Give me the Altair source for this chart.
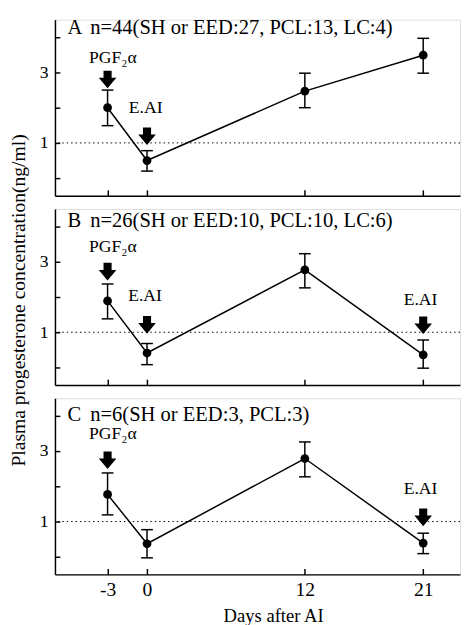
import altair as alt
import pandas as pd

# ---- data ----
DAYS = [-3, 0, 12, 21]
X_TICKS = [-3, 0, 12, 21]
Y_TICKS = [0, 1, 2, 3, 4]
REF = [1]

A_MEAN = [2.00, 0.50, 2.47, 3.49]
A_HI = [2.50, 0.78, 2.98, 3.97]
A_LO = [1.49, 0.20, 2.00, 2.98]

B_MEAN = [1.89, 0.41, 2.77, 0.36]
B_HI = [2.37, 0.68, 3.23, 0.78]
B_LO = [1.38, 0.08, 2.26, -0.02]

C_MEAN = [1.77, 0.37, 2.79, 0.39]
C_HI = [2.38, 0.77, 3.26, 0.67]
C_LO = [1.19, -0.03, 2.27, 0.09]

PANEL_LETTERS = ["A", "B", "C"]
PANEL_TEXTS = ["n=44(SH or EED:27, PCL:13, LC:4)",
               "n=26(SH or EED:10, PCL:10, LC:6)",
               "n=6(SH or EED:3, PCL:3)"]
PANEL_TEXT_Y = [4.25, 4.15, 4.02]

# arrows (day, level) per panel
ARROWS = {
    "A": ([-3, 0], [2.80, 1.19]),
    "B": ([-3, 0, 21], [2.72, 1.21, 1.20]),
    "C": ([-3, 21], [2.74, 1.12]),
}
# annotation labels (text, day, level) per panel
LABELS = {
    "A": (["PGF₂α", "E.AI"], [-2.6, -0.1], [3.40, 2.00]),
    "B": (["PGF₂α", "E.AI", "E.AI"], [-2.6, -0.15, 20.8], [3.43, 2.02, 1.90]),
    "C": (["PGF₂α", "E.AI"], [-2.6, 20.8], [3.47, 1.93]),
}

SERIES = {"A": (A_MEAN, A_LO, A_HI), "B": (B_MEAN, B_LO, B_HI), "C": (C_MEAN, C_LO, C_HI)}

FONT = "'Liberation Serif', 'Times New Roman', Times, serif"
ARROW = "M-0.46,-1L0.46,-1L0.46,-0.2L1,-0.2L0,1L-1,-0.2L-0.46,-0.2Z"
CAP = "M-1,0L1,0"

W, H = 414, 180
XDOM = [-7, 23.8]
YDOM = [-0.5, 4.5]


def panel(i, key):
    mean, lo, hi = SERIES[key]
    df = pd.DataFrame({"day": DAYS, "mean": mean, "lo": lo, "hi": hi})
    bottom = key == "C"
    xaxis = alt.Axis(values=X_TICKS, tickSize=alt.ExprRef(expr="-6"), labels=bottom,
                     labelExpr="datum.value < 0 ? '-' + abs(datum.value) : '' + datum.value",
                     labelPadding=12, labelFont=FONT, labelFontSize=20, labelColor="black",
                     domainColor="black", domainWidth=1.5, tickColor="black", tickWidth=1.5,
                     grid=False, title="Days after AI" if bottom else None,
                     titleFont=FONT, titleFontSize=19, titleFontWeight="normal",
                     titleColor="black", titlePadding=7, titleX=223)
    yaxis = alt.Axis(values=Y_TICKS, tickSize=alt.ExprRef(expr="-5"),
                     labelExpr="datum.value == 1 || datum.value == 3 ? datum.label : ''",
                     labelPadding=12, labelFont=FONT, labelFontSize=18, labelColor="black",
                     domainColor="black", domainWidth=1.5, tickColor="black", tickWidth=1.5,
                     grid=False,
                     title="Plasma progesterone concentration(ng/ml)" if key == "B" else None,
                     titleFont=FONT, titleFontSize=20, titleFontWeight="normal",
                     titleColor="black", titlePadding=11, titleY=93)
    xs = alt.Scale(domain=XDOM, nice=False, zero=False)
    ys = alt.Scale(domain=YDOM, nice=False, zero=False)

    base = alt.Chart(df)
    ref = alt.Chart(pd.DataFrame({"ref": REF})).mark_rule(
        color="black", strokeWidth=1, strokeDash=[1.5, 3]
    ).encode(y=alt.Y("ref:Q", scale=ys, axis=yaxis))
    line = base.mark_line(color="black", strokeWidth=1.5).encode(
        x=alt.X("day:Q", scale=xs, axis=xaxis), y=alt.Y("mean:Q", scale=ys, axis=yaxis))
    err = base.mark_rule(color="black", strokeWidth=1.5).encode(
        x=alt.X("day:Q", scale=xs), y=alt.Y("lo:Q", scale=ys), y2="hi:Q")
    cap_lo = base.mark_point(shape=CAP, size=144, filled=False, color="black",
                             strokeWidth=1.5, opacity=1).encode(
        x=alt.X("day:Q", scale=xs), y=alt.Y("lo:Q", scale=ys))
    cap_hi = base.mark_point(shape=CAP, size=144, filled=False, color="black",
                             strokeWidth=1.5, opacity=1).encode(
        x=alt.X("day:Q", scale=xs), y=alt.Y("hi:Q", scale=ys))
    pts = base.mark_circle(size=80, color="black", opacity=1).encode(
        x=alt.X("day:Q", scale=xs), y=alt.Y("mean:Q", scale=ys))

    ad, al = ARROWS[key]
    arrows = alt.Chart(pd.DataFrame({"day": ad, "lvl": al})).mark_point(
        shape=ARROW, size=324, filled=True, color="black", strokeWidth=0, opacity=1
    ).encode(x=alt.X("day:Q", scale=xs), y=alt.Y("lvl:Q", scale=ys))

    lt, lx, ly = LABELS[key]
    labels = alt.Chart(pd.DataFrame({"t": lt, "day": lx, "lvl": ly})).mark_text(
        font=FONT, fontSize=18, color="black", baseline="middle", align="center"
    ).encode(x=alt.X("day:Q", scale=xs), y=alt.Y("lvl:Q", scale=ys), text="t:N")

    ptitle = pd.DataFrame({"t": [PANEL_LETTERS[i], PANEL_TEXTS[i]],
                           "day": [-6.05, -4.32], "lvl": [PANEL_TEXT_Y[i]] * 2})
    ptext = alt.Chart(ptitle).mark_text(
        font=FONT, fontSize=21, color="black", baseline="middle", align="left"
    ).encode(x=alt.X("day:Q", scale=xs), y=alt.Y("lvl:Q", scale=ys), text="t:N")

    return alt.layer(ref, line, err, cap_lo, cap_hi, pts, arrows, labels, ptext).properties(
        width=W, height=H)


chart = alt.vconcat(*[panel(i, k) for i, k in enumerate(["A", "B", "C"])],
                    spacing=13.5, bounds="flush").properties(
    padding={"left": 0, "top": 2, "right": 0, "bottom": 0}
).configure_view(stroke=None).configure(background="white")

chart.save("out.html", embed_options={"renderer": "svg", "actions": False})
